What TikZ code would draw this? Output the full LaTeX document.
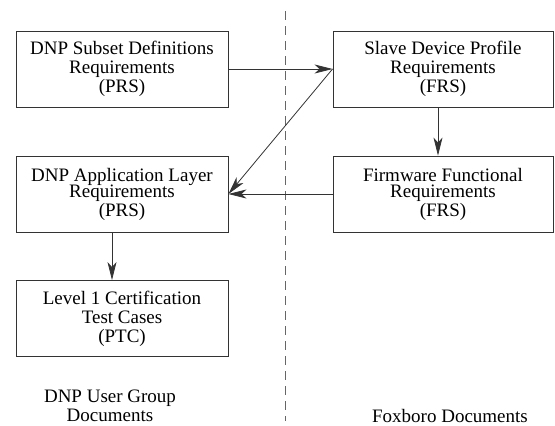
\documentclass[tikz,border=0pt]{standalone}
\usepackage{fontspec}
\setmainfont{Liberation Serif}
\usepackage{tikz}
\usetikzlibrary{arrows.meta, positioning}
\tikzstyle{box} = [rectangle, draw=black!80, line width=0.9pt, align=center, inner sep=0pt, minimum width=212pt, minimum height=76pt, font=\fontsize{19}{19}\selectfont]
\tikzstyle{wbox} = [box, minimum width=220pt]
\tikzstyle{caption} = [align=center, font=\fontsize{19}{19}\selectfont]
\tikzstyle{arrow} = [draw=black!80, line width=0.8pt, -{Stealth[length=18pt, width=9pt, inset=5pt]}]
\tikzstyle{divider} = [draw=black!60, line width=1pt, dash pattern=on 9pt off 6pt]

\begin{document}
\begin{tikzpicture}[x=1pt, y=-1pt]
			\useasboundingbox (0,0) rectangle (555,426);

			\node [box] (subset) at (122, 69) {DNP Subset Definitions\\Requirements\\(PRS)};
			\node [wbox] (slave) at (443, 69) {Slave Device Profile\\Requirements\\(FRS)};
			\node [box] (app) at (122, 194) {DNP Application Layer\\[-3pt]Requirements\\(PRS)};
			\node [wbox] (firmware) at (443, 194) {Firmware Functional\\[-3pt]Requirements\\(FRS)};
			\node [box] (level1) at (122, 318.5) {Level 1 Certification\\Test Cases\\(PTC)};

			\node [caption] (usergroup) at (110, 406) {DNP User Group\\Documents};
			\node [caption] (foxboro) at (450, 415.5) {Foxboro Documents};

			\coordinate (divtop) at (285, 11);
			\coordinate (divbot) at (285, 421);
			\path [divider] (divtop) -- (divbot);

			\path [arrow] (subset) -- (slave);
			\path [arrow] (slave.west) -- (app.east);
			\path [arrow] (firmware) -- (app);
			\path [arrow] ([xshift=-5pt]slave.south) -- ([xshift=-5pt]firmware.north);
			\path [arrow] ([xshift=-10pt]app.south) -- ([xshift=-10pt]level1.north);
		\end{tikzpicture}
\end{document}
